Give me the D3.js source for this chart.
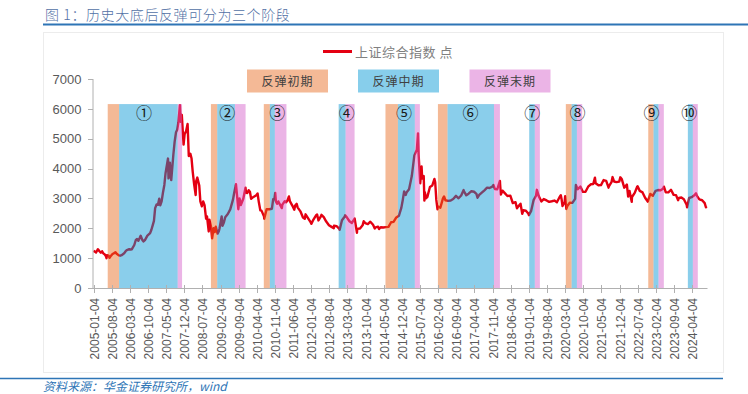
<!DOCTYPE html>
<html><head><meta charset="utf-8">
<script src="https://cdn.jsdelivr.net/npm/d3@7"></script>
<style>body{margin:0;background:#fff}svg{display:block}</style>
</head><body>
<svg id="c" width="748" height="394"></svg>
<script>
// ---- data ----
const title = "图 1：历史大底后反弹可分为三个阶段";
const source = "资料来源：华金证券研究所，wind";
const seriesName = "上证综合指数 点";
const phaseNames = ["反弹初期", "反弹中期", "反弹末期"];
const yTicks = [0, 1000, 2000, 3000, 4000, 5000, 6000, 7000];
const xTickLabels = ["2005-01-04","2005-08-04","2006-03-04","2006-10-04","2007-05-04","2007-12-04","2008-07-04","2009-02-04","2009-09-04","2010-04-04","2010-11-04","2011-06-04","2012-01-04","2012-08-04","2013-03-04","2013-10-04","2014-05-04","2014-12-04","2015-07-04","2016-02-04","2016-09-04","2017-04-04","2017-11-04","2018-06-04","2019-01-04","2019-08-04","2020-03-04","2020-10-04","2021-05-04","2021-12-04","2022-07-04","2023-02-04","2023-09-04","2024-04-04"];

const dates = [
"2005-01-04","2005-01-20","2005-02-03","2005-02-25","2005-03-15","2005-03-31","2005-04-15","2005-04-29","2005-05-17","2005-05-31","2005-06-06","2005-06-10","2005-06-30","2005-07-11","2005-07-29","2005-08-15","2005-08-31","2005-09-19","2005-09-30","2005-10-28","2005-11-15","2005-11-30","2005-12-15","2005-12-30",
"2006-01-16","2006-01-25","2006-02-28","2006-03-15","2006-03-31","2006-04-28","2006-05-15","2006-05-31","2006-06-15","2006-06-30","2006-07-12","2006-07-31","2006-08-15","2006-08-31","2006-09-29","2006-10-31","2006-11-15","2006-11-30","2006-12-15","2006-12-29",
"2007-01-15","2007-01-31","2007-02-15","2007-02-27","2007-03-15","2007-03-30","2007-04-16","2007-04-30","2007-05-29","2007-06-04","2007-06-20","2007-06-29","2007-07-06","2007-07-31","2007-08-15","2007-08-31","2007-09-14","2007-09-28","2007-10-16","2007-10-25","2007-11-07","2007-11-28","2007-12-10","2007-12-28",
"2008-01-14","2008-01-28","2008-02-15","2008-02-29","2008-03-14","2008-03-31","2008-04-18","2008-04-24","2008-05-07","2008-05-30","2008-06-12","2008-06-30","2008-07-15","2008-07-31","2008-08-18","2008-08-29","2008-09-18","2008-09-26","2008-10-14","2008-10-28","2008-11-14","2008-11-28","2008-12-10","2008-12-31",
"2009-01-15","2009-01-23","2009-02-17","2009-02-27","2009-03-16","2009-03-31","2009-04-30","2009-05-29","2009-06-30","2009-07-15","2009-07-31","2009-08-04","2009-08-31","2009-09-01","2009-09-15","2009-09-30","2009-10-30","2009-11-24","2009-11-30","2009-12-15","2009-12-31",
"2010-01-15","2010-01-29","2010-02-26","2010-03-31","2010-04-15","2010-04-30","2010-05-17","2010-05-31","2010-06-30","2010-07-02","2010-07-30","2010-08-31","2010-09-30","2010-10-15","2010-10-29","2010-11-08","2010-11-16","2010-11-30","2010-12-15","2010-12-31",
"2011-01-25","2011-01-31","2011-02-28","2011-03-16","2011-03-31","2011-04-18","2011-04-29","2011-05-31","2011-06-20","2011-06-30","2011-07-18","2011-07-29","2011-08-31","2011-09-30","2011-10-21","2011-10-31","2011-11-30","2011-12-30",
"2012-01-06","2012-01-31","2012-02-29","2012-03-14","2012-03-30","2012-04-27","2012-05-04","2012-05-31","2012-06-29","2012-07-31","2012-08-31","2012-09-26","2012-09-28","2012-10-31","2012-11-30","2012-12-04","2012-12-31",
"2013-01-31","2013-02-06","2013-02-28","2013-03-29","2013-04-26","2013-05-29","2013-06-25","2013-06-28","2013-07-31","2013-08-30","2013-09-12","2013-09-30","2013-10-31","2013-11-29","2013-12-31",
"2014-01-20","2014-01-30","2014-02-28","2014-03-12","2014-03-31","2014-04-30","2014-05-30","2014-06-30","2014-07-31","2014-08-29","2014-09-30","2014-10-31","2014-11-28","2014-12-15","2014-12-31",
"2015-01-19","2015-01-30","2015-02-27","2015-03-31","2015-04-30","2015-05-28","2015-05-29","2015-06-12","2015-06-19","2015-07-08","2015-07-24","2015-07-31","2015-08-18","2015-08-26","2015-08-31","2015-09-15","2015-09-30","2015-10-30","2015-11-27","2015-12-22","2015-12-31",
"2016-01-13","2016-01-27","2016-01-29","2016-02-29","2016-03-31","2016-04-13","2016-04-29","2016-05-31","2016-06-30","2016-07-29","2016-08-31","2016-09-30","2016-10-31","2016-11-29","2016-11-30","2016-12-30",
"2017-01-26","2017-02-28","2017-03-31","2017-04-28","2017-05-11","2017-05-31","2017-06-30","2017-07-31","2017-08-31","2017-09-29","2017-10-31","2017-11-14","2017-11-30","2017-12-29",
"2018-01-29","2018-01-31","2018-02-09","2018-02-28","2018-03-30","2018-04-27","2018-05-31","2018-06-29","2018-07-31","2018-08-17","2018-08-31","2018-09-28","2018-10-18","2018-10-31","2018-11-30","2018-12-28",
"2019-01-04","2019-01-31","2019-02-28","2019-03-29","2019-04-08","2019-04-30","2019-05-31","2019-06-28","2019-07-31","2019-08-30","2019-09-30","2019-10-31","2019-11-29","2019-12-31",
"2020-01-14","2020-01-23","2020-02-03","2020-02-28","2020-03-05","2020-03-19","2020-03-31","2020-04-30","2020-05-29","2020-06-30","2020-07-09","2020-07-31","2020-08-31","2020-09-30","2020-10-30","2020-11-30","2020-12-31",
"2021-01-29","2021-02-18","2021-02-26","2021-03-31","2021-04-30","2021-05-31","2021-06-30","2021-07-28","2021-07-30","2021-08-31","2021-09-13","2021-09-30","2021-10-29","2021-11-30","2021-12-13","2021-12-31",
"2022-01-28","2022-02-28","2022-03-15","2022-03-31","2022-04-26","2022-04-29","2022-05-31","2022-06-30","2022-07-04","2022-07-29","2022-08-31","2022-09-30","2022-10-31","2022-11-30","2022-12-30",
"2023-01-31","2023-02-28","2023-03-31","2023-04-28","2023-05-09","2023-05-31","2023-06-30","2023-07-31","2023-08-31","2023-09-28","2023-10-23","2023-10-31","2023-11-30","2023-12-29",
"2024-01-31","2024-02-05","2024-02-29","2024-03-29","2024-04-30","2024-05-20","2024-05-31","2024-06-28","2024-07-31","2024-08-30","2024-09-13","2024-09-20"
];
const values = [
1243,1220,1190,1300,1230,1181,1230,1159,1120,1060,998,1100,1081,1011,1083,1140,1162,1200,1155,1093,1082,1099,1130,1161,
1230,1258,1299,1290,1299,1440,1600,1641,1580,1672,1750,1612,1560,1601,1752,1837,1950,2099,2250,2675,
2800,2786,2990,2771,2900,3183,3450,3841,4335,3670,4200,3820,3615,4471,4900,5218,5300,5552,6124,5563,5800,4803,5150,5261,
5497,4419,4500,4348,3900,3473,3116,3583,3700,3433,2900,2736,2900,2775,2320,2397,1895,2290,2070,1664,2000,1871,2050,1821,
1900,1991,2400,2082,2200,2373,2477,2633,2959,3200,3412,3478,2667,2639,3000,2779,2996,3361,3195,3180,3277,
3224,2989,3051,3110,3166,2870,2600,2592,2398,2319,2638,2639,2656,2971,2979,3186,2900,2820,2900,2808,
2677,2791,2905,2870,2928,3067,2911,2743,2621,2762,2820,2701,2568,2359,2317,2468,2333,2199,
2148,2292,2428,2460,2263,2397,2450,2373,2225,2103,2047,2005,2086,2069,1980,1949,2269,
2385,2434,2359,2237,2178,2324,1849,1979,1994,2098,2237,2175,2141,2220,2116,
1992,2033,2056,1974,2033,2026,2039,2048,2202,2217,2364,2420,2683,2950,3235,
3116,3210,3310,3748,4442,4620,4612,5178,4478,3507,4070,3664,3748,2927,3206,3005,3053,3383,3436,3651,3539,
2950,2638,2738,2688,3004,3066,2938,2917,2930,2979,3085,3005,3100,3282,3250,3104,
3159,3242,3223,3155,3023,3117,3192,3273,3361,3349,3393,3447,3317,3307,
3587,3481,3129,3259,3169,3082,3095,2847,2876,2669,2725,2821,2486,2603,2588,2494,
2440,2585,2941,3091,3288,3078,2899,2979,2933,2886,2905,2929,2872,3050,
3106,2977,2746,2880,3071,2646,2750,2860,2852,2985,3450,3310,3396,3218,3225,3392,3473,
3483,3696,3509,3441,3447,3615,3591,3361,3397,3544,3715,3568,3547,3564,3708,3640,
3361,3463,3064,3252,2886,3047,3186,3399,3405,3253,3202,3024,2893,3151,3089,
3255,3280,3273,3323,3395,3205,3202,3291,3120,3110,2939,3018,3030,2975,
2789,2702,3015,3041,3105,3171,3087,2967,2939,2842,2704,2736
];

// rebound phases: [early start, mid start, late start, late end]
const earlyStart = ["2005-06-20","2008-10-14","2010-06-27",null,"2014-05-26","2016-02-01",null,"2020-03-13","2022-11-06",null];
const midStart   = ["2005-11-01","2008-12-27","2010-09-06","2012-11-22","2014-10-19","2016-05-24","2019-01-08","2020-05-20","2023-01-07","2024-02-14"];
const lateStart  = ["2007-09-20","2009-07-23","2010-11-04","2013-02-12","2015-05-06","2017-11-20","2019-03-15","2020-07-21","2023-03-07","2024-04-13"];
const lateEnd    = ["2007-11-10","2009-11-25","2011-03-20","2013-05-28","2015-07-04","2018-01-29","2019-05-13","2020-09-21","2023-05-08","2024-06-10"];
const bandTop = 6160;
const phaseLabels = ["①","②","③","④","⑤","⑥","⑦","⑧","⑨","⑩"];
const phaseLabelDates = ["2006-08-20","2009-04-23","2010-12-01","2013-02-24","2014-12-29","2017-02-19","2019-02-12","2020-07-29","2022-12-15","2024-03-02"];

// ---- drawing ----
const parse = d3.timeParse("%Y-%m-%d");
const svg = d3.select("#c");
const x = d3.scaleTime().domain([parse("2005-01-04"), parse("2024-09-20")]).range([93.5, 706.5]);
const y = d3.scaleLinear().domain([0, 7000]).range([288, 79]);

const fillCols = ["rgb(231,103,27)", "rgb(0,148,212)", "rgb(212,92,201)"];
const legendCols = ["rgb(244,185,150)", "rgb(135,206,235)", "rgb(235,180,230)"];
const bandAlpha = 0.46;

// frame
svg.append("rect").attr("x",43.5).attr("y",32.5).attr("width",680).attr("height",340)
  .attr("fill","none").attr("stroke","#ececec");

// title
svg.append("text").attr("x",45).attr("y",19.5).text(title)
  .attr("font-family","'Noto Sans CJK SC'").attr("font-size",14).attr("letter-spacing",0.6)
  .attr("font-weight",300).attr("fill","#5271a5");
svg.append("line").attr("x1",43).attr("x2",748).attr("y1",24.5).attr("y2",24.5)
  .attr("stroke","#2e75b6").attr("stroke-width",2);

// bottom line and source
svg.append("line").attr("x1",0).attr("x2",723).attr("y1",378.5).attr("y2",378.5)
  .attr("stroke","#2e75b6").attr("stroke-width",1.5);
svg.append("text").attr("x",43).attr("y",391).text(source)
  .attr("font-family","'Noto Sans CJK SC'").attr("font-size",12).attr("font-style","italic")
  .attr("fill","#2e75b6");

// series line
const pts = dates.map((d,i)=>({d:parse(d), v:values[i]}));
svg.append("path").datum(pts)
  .attr("d", d3.line().x(p=>x(p.d)).y(p=>y(p.v)))
  .attr("fill","none").attr("stroke","rgb(228,0,18)").attr("stroke-width",2.4).attr("stroke-linejoin","round");

// bands on top (semi transparent)
const bands = [];
midStart.forEach((m,i)=>{
  if (earlyStart[i]) bands.push({a:earlyStart[i], b:m, k:0});
  bands.push({a:m, b:lateStart[i], k:1});
  bands.push({a:lateStart[i], b:lateEnd[i], k:2});
});
svg.append("g").selectAll("rect").data(bands).join("rect")
  .attr("x", d=>x(parse(d.a))).attr("width", d=>x(parse(d.b))-x(parse(d.a)))
  .attr("y", y(bandTop)).attr("height", y(0)-y(bandTop))
  .attr("fill", d=>fillCols[d.k]).attr("fill-opacity", bandAlpha);

// phase numbers
svg.append("g").selectAll("text").data(phaseLabels).join("text")
  .attr("x",(d,i)=>x(parse(phaseLabelDates[i]))).attr("y",118.5)
  .attr("text-anchor","middle").attr("font-family","'Noto Sans CJK SC'").attr("font-size",16)
  .attr("fill","#1a1a1a").text(d=>d);

// y axis
const axisCol = "#b0b0b0";
svg.append("line").attr("x1",93).attr("x2",93).attr("y1",y(7000)).attr("y2",y(0)).attr("stroke",axisCol);
const yg = svg.append("g");
yTicks.forEach(t=>{
  yg.append("line").attr("x1",88).attr("x2",93).attr("y1",Math.round(y(t))+0.5).attr("y2",Math.round(y(t))+0.5).attr("stroke",axisCol);
  yg.append("text").attr("x",81.5).attr("y",y(t)).attr("dy","0.36em").attr("text-anchor","end")
    .attr("font-family","'Liberation Sans', Arial").attr("font-size",13).attr("fill","#595959").text(t);
});

// x axis
svg.append("line").attr("x1",93).attr("x2",x.range()[1]+1).attr("y1",288.5).attr("y2",288.5).attr("stroke",axisCol);
const xg = svg.append("g");
xTickLabels.forEach(l=>{
  const xx = Math.round(x(parse(l)))+0.5;
  xg.append("line").attr("x1",xx).attr("x2",xx).attr("y1",285).attr("y2",293).attr("stroke",axisCol);
  xg.append("text").attr("transform",`translate(${xx+0.5},298) rotate(-90)`)
    .attr("dy","0.36em").attr("text-anchor","end")
    .attr("font-family","'Liberation Sans', Arial").attr("font-size",12).attr("fill","#595959").text(l);
});

// legend
svg.append("line").attr("x1",323).attr("x2",352).attr("y1",51.5).attr("y2",51.5)
  .attr("stroke","rgb(228,0,18)").attr("stroke-width",3);
svg.append("text").attr("x",355).attr("y",56.5).text(seriesName)
  .attr("font-family","'Noto Sans CJK SC'").attr("font-size",13).attr("letter-spacing",0.5).attr("fill","#808080");
const legX = [247, 358, 469.5];
phaseNames.forEach((n,i)=>{
  svg.append("rect").attr("x",legX[i]).attr("y",69.5).attr("width",81).attr("height",23)
    .attr("fill",legendCols[i]);
  svg.append("text").attr("x",legX[i]+40.5).attr("y",85.5).attr("text-anchor","middle")
    .attr("font-family","'Noto Sans CJK SC'").attr("font-size",12).attr("letter-spacing",1)
    .attr("fill","#404040").text(n);
});
</script>
</body></html>
